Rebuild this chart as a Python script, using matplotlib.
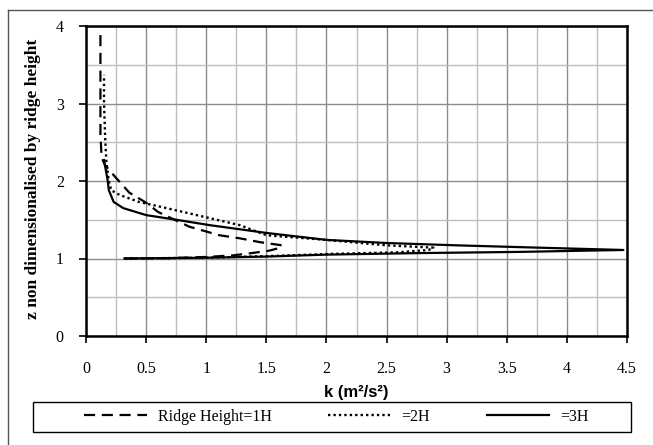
from matplotlib import pyplot as plt
from matplotlib.lines import Line2D
from matplotlib.patches import Rectangle
from matplotlib.ticker import MultipleLocator, FormatStrFormatter
import numpy as np

# k (m2/s2) profiles against z / ridge height
z_1h = [1.00, 1.005, 1.02, 1.04, 1.07, 1.10, 1.14, 1.17, 1.21, 1.26, 1.30, 1.41,
        1.60, 1.72, 1.85, 2.04, 2.20, 2.30, 2.6, 3.0, 3.5, 3.91]
k_1h = [0.32, 0.7, 1.0, 1.22, 1.38, 1.52, 1.62, 1.63, 1.45, 1.28, 1.11, 0.86,
        0.60, 0.50, 0.36, 0.25, 0.16, 0.13, 0.12, 0.12, 0.12, 0.12]

z_2h = [1.00, 1.01, 1.03, 1.06, 1.08, 1.11, 1.14, 1.17, 1.24, 1.30, 1.43, 1.56,
        1.65, 1.73, 1.82, 1.88, 2.0, 2.23, 2.53, 3.0, 3.37]
k_2h = [0.32, 1.0, 1.5, 2.05, 2.6, 2.85, 2.89, 2.5, 2.0, 1.5, 1.28, 0.92,
        0.67, 0.44, 0.28, 0.21, 0.19, 0.17, 0.16, 0.15, 0.15]

z_3h = [1.00, 1.01, 1.025, 1.05, 1.07, 1.085, 1.11, 1.14, 1.17, 1.20, 1.24, 1.33,
        1.43, 1.50, 1.56, 1.65, 1.73, 1.88, 2.01, 2.27]
k_3h = [0.32, 1.0, 1.5, 2.0, 2.78, 3.6, 4.47, 3.76, 3.08, 2.5, 2.0, 1.5,
        1.03, 0.75, 0.5, 0.31, 0.23, 0.19, 0.18, 0.15]

labels = ['Ridge Height=1H', '=2H', '=3H']

plt.rcParams['font.family'] = ['Liberation Serif', 'DejaVu Serif']

W, H = 653, 445
fig = plt.figure(figsize=(W / 100, H / 100), dpi=100)
ax = fig.add_axes([86 / W, 1 - 336 / H, (627 - 86) / W, (336 - 26) / H])

l1, = ax.plot(k_1h, z_1h, color='black', lw=1.6, linestyle=(0, (5, 3)))
l2, = ax.plot(k_2h, z_2h, color='black', lw=1.7, linestyle=(0, (1, 1.3)))
l3, = ax.plot(k_3h, z_3h, color='black', lw=1.6, linestyle='-')

ax.set_xlim(0, 4.5)
ax.set_ylim(0, 4)
ax.xaxis.set_major_locator(MultipleLocator(0.5))
ax.xaxis.set_minor_locator(MultipleLocator(0.25))
ax.yaxis.set_major_locator(MultipleLocator(1))
ax.yaxis.set_minor_locator(MultipleLocator(0.5))
ax.xaxis.set_major_formatter(FormatStrFormatter('%g'))
ax.yaxis.set_major_formatter(FormatStrFormatter('%g'))

ax.grid(which='major', color='#8c8c8c', lw=1.0)
ax.grid(which='minor', color='#bdbdbd', lw=1.0)
ax.set_axisbelow(True)
ax.tick_params(which='major', direction='out', length=5, width=1.2, labelsize=11.5)
ax.tick_params(axis='x', which='major', pad=13)
ax.tick_params(axis='y', which='major', pad=11)
ax.tick_params(which='minor', length=0)
for s in ax.spines.values():
    s.set_linewidth(1.8)
    s.set_color('black')

ax.set_xlabel('k (m²/s²)', family=['Liberation Sans'], fontweight='bold',
              fontsize=12, labelpad=6)
fig.text(33 / W, 1 - 179 / H, 'z non dimensionalised by ridge height',
         rotation=90, ha='center', va='center', fontweight='bold', fontsize=12.5)

# outer chart frame
fig.add_artist(Line2D([8 / W, 1], [1 - 10 / H, 1 - 10 / H], color='#555555', lw=1))
fig.add_artist(Line2D([8 / W, 8 / W], [0, 1 - 10 / H], color='#555555', lw=1))

# legend box
fig.add_artist(Rectangle((33 / W, 1 - 432 / H), (631 - 33) / W, 30 / H,
                         transform=fig.transFigure, fill=False, ec='black', lw=1))
fig.legend([l1, l2, l3], labels, loc='center', ncol=3, mode='expand',
           bbox_to_anchor=(78 / W, 1 - 432 / H, (595 - 78) / W, 30 / H),
           frameon=False, fontsize=11.5, handlelength=3.9, handletextpad=0.7,
           borderaxespad=0)

fig.savefig('out.png', dpi=100)
